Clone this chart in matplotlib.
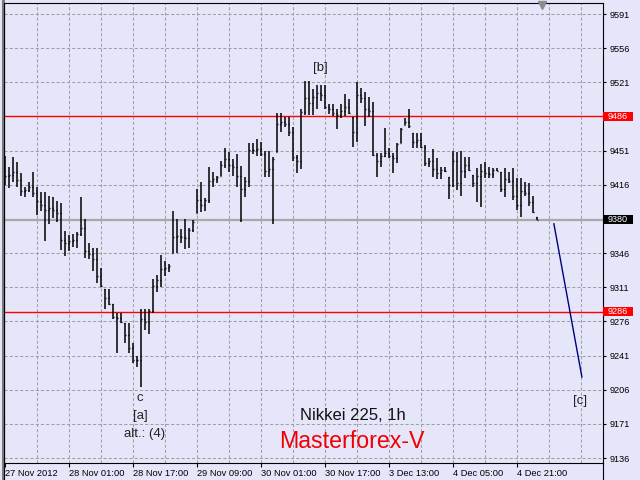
import matplotlib
matplotlib.use("Agg")
import matplotlib.pyplot as plt
from matplotlib.lines import Line2D
from matplotlib.patches import Rectangle
from matplotlib.transforms import blended_transform_factory

# ============================================================
# DATA (Nikkei 225, H1, bars indexed from 27 Nov 2012)
# ============================================================

highs = [
    9445, 9434, 9444, 9439, 9428, 9414, 9419, 9429, 9414, 9409,
    9409, 9405, 9403, 9399, 9397, 9369, 9365, 9366, 9368, 9403,
    9381, 9356, 9351, 9351, 9331, 9309, 9309, 9294, 9285, 9285,
    9274, 9274, 9254, 9241, 9289, 9289, 9289, 9319, 9324, 9344,
    9338, 9335, 9389, 9381, 9371, 9381, 9372, 9380, 9412, 9419,
    9402, 9434, 9429, 9425, 9440, 9454, 9450, 9442, 9448, 9435,
    9424, 9459, 9459, 9463, 9460, 9451, 9451, 9444, 9490, 9490,
    9485, 9485, 9475, 9447, 9494, 9522, 9522, 9514, 9518, 9518,
    9518, 9499, 9499, 9494, 9499, 9509, 9504, 9485, 9521, 9515,
    9511, 9506, 9501, 9449, 9449, 9474, 9454, 9449, 9459, 9474,
    9484, 9494, 9469, 9469, 9469, 9457, 9443, 9453, 9443, 9434,
    9434, 9424, 9451, 9450, 9451, 9444, 9444, 9426, 9433, 9437,
    9439, 9434, 9433, 9433, 9429, 9433, 9429, 9433, 9423, 9423,
    9419, 9418, 9405, 9383,
]

lows = [
    9416, 9413, 9419, 9414, 9405, 9403, 9409, 9403, 9385, 9389,
    9358, 9376, 9382, 9378, 9349, 9343, 9348, 9352, 9351, 9364,
    9341, 9340, 9328, 9315, 9311, 9289, 9293, 9278, 9244, 9274,
    9254, 9244, 9233, 9229, 9209, 9267, 9263, 9285, 9306, 9311,
    9323, 9327, 9346, 9346, 9356, 9350, 9351, 9368, 9387, 9388,
    9389, 9397, 9414, 9418, 9425, 9433, 9429, 9425, 9414, 9378,
    9403, 9414, 9448, 9445, 9445, 9424, 9424, 9376, 9450, 9470,
    9475, 9466, 9440, 9428, 9432, 9488, 9488, 9488, 9494, 9502,
    9494, 9489, 9486, 9473, 9484, 9486, 9489, 9455, 9460, 9500,
    9476, 9485, 9445, 9424, 9434, 9444, 9443, 9428, 9438, 9459,
    9477, 9474, 9454, 9454, 9454, 9435, 9434, 9424, 9422, 9422,
    9429, 9401, 9414, 9411, 9405, 9423, 9430, 9414, 9398, 9393,
    9423, 9423, 9423, 9430, 9409, 9403, 9418, 9400, 9390, 9383,
    9405, 9394, 9387, 9380,
]

opens = [
    9430, 9425, 9426, 9429, 9421, 9410, 9411, 9414, 9408, 9399,
    9395, 9390, 9392, 9390, 9387, 9359, 9356, 9358, 9359, 9366,
    9372, 9348, 9345, 9340, 9323, 9309, 9300, 9294, 9281, 9279,
    9274, 9262, 9249, 9236, 9236, 9278, 9275, 9287, 9312, 9318,
    9330, 9331, 9346, 9363, 9364, 9362, 9361, 9370, 9387, 9400,
    9395, 9400, 9420, 9422, 9425, 9436, 9442, 9436, 9434, 9425,
    9412, 9420, 9452, 9452, 9453, 9448, 9430, 9432, 9450, 9478,
    9480, 9478, 9470, 9444, 9440, 9491, 9505, 9500, 9506, 9510,
    9508, 9496, 9494, 9490, 9488, 9492, 9496, 9485, 9470, 9508,
    9505, 9494, 9492, 9447, 9440, 9446, 9449, 9446, 9443, 9459,
    9477, 9480, 9469, 9460, 9462, 9455, 9438, 9440, 9432, 9428,
    9431, 9424, 9416, 9440, 9418, 9430, 9436, 9426, 9418, 9425,
    9430, 9428, 9427, 9431, 9429, 9412, 9422, 9420, 9405, 9395,
    9410, 9408, 9398, 9383,
]

closes = [
    9425, 9426, 9429, 9421, 9410, 9411, 9414, 9408, 9399, 9395,
    9390, 9392, 9390, 9387, 9359, 9356, 9358, 9359, 9366, 9372,
    9348, 9345, 9340, 9323, 9312, 9300, 9294, 9281, 9279, 9275,
    9262, 9249, 9236, 9236, 9278, 9275, 9287, 9312, 9318, 9330,
    9331, 9333, 9363, 9364, 9362, 9361, 9370, 9378, 9400, 9395,
    9400, 9420, 9422, 9424, 9436, 9442, 9436, 9434, 9425, 9412,
    9420, 9452, 9452, 9453, 9448, 9430, 9432, 9442, 9478, 9480,
    9478, 9470, 9444, 9440, 9491, 9505, 9500, 9506, 9510, 9508,
    9496, 9494, 9490, 9488, 9492, 9496, 9490, 9470, 9508, 9505,
    9494, 9492, 9447, 9440, 9446, 9449, 9446, 9443, 9458, 9473,
    9480, 9476, 9460, 9462, 9455, 9438, 9440, 9432, 9428, 9431,
    9430, 9416, 9440, 9418, 9430, 9436, 9431, 9418, 9425, 9430,
    9428, 9427, 9431, 9430, 9412, 9422, 9420, 9405, 9395, 9410,
    9408, 9398, 9388, 9380,
]

time_labels = [
    "27 Nov 2012", "28 Nov 01:00", "28 Nov 17:00", "29 Nov 09:00",
    "30 Nov 01:00", "30 Nov 17:00", "3 Dec 13:00", "4 Dec 05:00",
    "4 Dec 21:00",
]
time_label_bars = [0, 16, 32, 48, 64, 80, 96, 112, 128]

price_ticks = [9136, 9171, 9206, 9241, 9276, 9311, 9346, 9381,
               9416, 9451, 9486, 9521, 9556, 9591]

levels_red = [9486, 9286]
bid_price = 9380

# forecast leg [c]
wave_x = [137.2, 144.2]
wave_y = [9376, 9219]

# wave marks: (bar, price, text)
wave_labels = [
    (78.9, 9536, "[b]"),
    (33.8, 9197, "c"),
    (33.8, 9179, "[a]"),
    (34.8, 9161, "alt.: (4)"),
    (143.8, 9194, "[c]"),
]

chart_shift_bar = 134.2

# ============================================================
# STYLE
# ============================================================

BG = "#E6E6FA"
GRID = "#A0A0A0"
TICK_FONT = "Liberation Sans"

fig = plt.figure(figsize=(6.4, 4.8), dpi=100)
fig.patch.set_facecolor(BG)

W, H = 640.0, 480.0
left_px, right_px, top_px, bottom_px = 4.0, 602.7, 2.5, 462.7
ax_w_px = right_px - left_px
ax = fig.add_axes([
    left_px / W,
    1 - bottom_px / H,
    ax_w_px / W,
    (bottom_px - top_px) / H,
])
ax.set_facecolor(BG)

ax.set_xlim(-0.25, 149.4)
ax.set_ylim(9131.2, 9602.8)
px_per_pt = (bottom_px - top_px) / (9602.8 - 9131.2)

# grid
for b in range(8, 150, 8):
    ax.axvline(b, color=GRID, lw=0.75, ls=(0, (3, 2)), zorder=1)
for p in price_ticks:
    ax.axhline(p, color=GRID, lw=0.75, ls=(0, (3, 2)), zorder=1)

# bid line
ax.axhline(bid_price, color="#A8A8A8", lw=1.6, zorder=2)

# support / resistance
for lv in levels_red:
    ax.axhline(lv, color="#FF0000", lw=1.0, zorder=3)

# OHLC bars
xs = list(range(len(highs)))
ax.vlines(xs, lows, highs, color="black", lw=1.1, zorder=4)
ax.hlines(opens, [x - 0.32 for x in xs], xs, color="black", lw=1.0, zorder=4)
ax.hlines(closes, xs, [x + 0.32 for x in xs], color="black", lw=1.0, zorder=4)

# forecast line
ax.plot(wave_x, wave_y, color="#00007F", lw=1.0, zorder=5)

# wave labels
for bx, py, txt in wave_labels:
    ax.text(bx, py, txt, ha="center", va="center", fontsize=9.5,
            family=TICK_FONT, color="#222222", zorder=6)

ax.text(0.583, 0.102, "Nikkei 225, 1h", transform=ax.transAxes,
        ha="center", va="center", fontsize=12, family=TICK_FONT,
        color="#111111")
ax.text(0.581, 0.046, "Masterforex-V", transform=ax.transAxes,
        ha="center", va="center", fontsize=16.7, family=TICK_FONT,
        color="#F00000")

# chart shift marker
tr = blended_transform_factory(ax.transData, ax.transAxes)
ax.plot([chart_shift_bar], [0.9935], marker="v", markersize=6,
        color="#8C8C8C", transform=tr, clip_on=False, zorder=7)

# axes / ticks
for s in ax.spines.values():
    s.set_color("black")
    s.set_linewidth(0.8)

ax.set_xticks(time_label_bars)
ax.set_xticklabels(time_labels, ha="left", family=TICK_FONT, fontsize=6.7)
ax.tick_params(axis="x", direction="out", length=3, width=0.8, pad=1.5,
               colors="black")

# labels hidden behind the price tags are left blank
covered = set(levels_red) | {9381}
ax.yaxis.tick_right()
ax.set_yticks(price_ticks)
ax.set_yticklabels(["" if p in covered else str(p) for p in price_ticks],
                   family=TICK_FONT, fontsize=6.6)
ax.tick_params(axis="y", direction="out", length=2.5, width=0.8, pad=2.5,
               colors="black")

# price tags on right scale
ytr = blended_transform_factory(ax.transAxes, ax.transData)
tag_w = 29.5 / ax_w_px
tag_h = 9.0 / px_per_pt


def price_tag(value, face):
    ax.add_patch(Rectangle((1.0 + 0.6 / ax_w_px, value - tag_h / 2),
                           tag_w, tag_h, transform=ytr, facecolor=face,
                           edgecolor="none", clip_on=False, zorder=9))
    ax.text(1.0 + 4.6 / ax_w_px, value, str(value), transform=ytr,
            ha="left", va="center", fontsize=6.6, family=TICK_FONT,
            color="white", zorder=10, clip_on=False)


for lv in levels_red:
    price_tag(lv, "#FF0000")
price_tag(bid_price, "black")

# window frame pieces
fig.add_artist(Line2D([3.0 / W, 3.0 / W], [0, 1], color="#7A7A7A", lw=2.2,
                      transform=fig.transFigure))
fig.add_artist(Line2D([left_px / W, left_px / W], [0, 1 - top_px / H],
                      color="black", lw=0.8, transform=fig.transFigure))
fig.add_artist(Line2D([right_px / W, right_px / W], [0, 1 - bottom_px / H],
                      color="black", lw=0.8, transform=fig.transFigure))

fig.savefig("out.png", dpi=100, facecolor=BG)
